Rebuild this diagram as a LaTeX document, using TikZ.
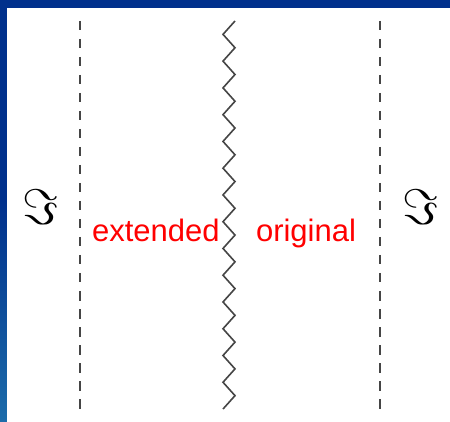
\documentclass[tikz,border=0pt]{standalone}
\usepackage{fontspec}
\usepackage{graphicx}
\newfontfamily\arialfont{Liberation Sans}
\definecolor{framedark}{HTML}{00308C}
\definecolor{framelight}{HTML}{1C6CAA}
\definecolor{linegray}{HTML}{454545}
\begin{document}
\begin{tikzpicture}[x=1pt,y=-1pt,
  divider/.style={draw=linegray,line width=1.3pt,dash pattern=on 9.5pt off 8.5pt},
  zig/.style={draw=linegray,line width=1.6pt,line join=miter},
  lbl/.style={text=red,font=\arialfont\fontsize{31}{31}\selectfont,inner sep=0pt,anchor=base},
  imsym/.style={inner sep=0pt,anchor=center}]
\useasboundingbox (0,0) rectangle (450,422);
% frame
\fill[framedark] (0,0) rectangle (450,8);
\fill[framedark] (0,0) rectangle (7,200);
\shade[top color=framedark,bottom color=framelight] (0,199.5) rectangle (7,422);
\fill[white] (7,8) rectangle (450,422);
% dashed dividers
\coordinate (d1t) at (80,21);
\coordinate (d1b) at (80,411);
\coordinate (d2t) at (380,21);
\coordinate (d2b) at (380,411);
\draw[divider] (d1t) -- (d1b);
\draw[divider] (d2t) -- (d2b);
% zigzag
\draw[zig] (235,21)
  \foreach \k in {1,...,29}{
    -- ({ifthenelse(mod(\k,2)==1,223,235)},{21+\k*13.38})
  };
% labels
\node[lbl] (ext) at (155.9,241.7) {extended};
\node[lbl] (orig) at (306,241.7) {original};
\node[imsym] (iml) at (41,207.5) {\scalebox{5}{$\Im$}};
\node[imsym] (imr) at (421,207.5) {\scalebox{5}{$\Im$}};
\end{tikzpicture}
\end{document}
